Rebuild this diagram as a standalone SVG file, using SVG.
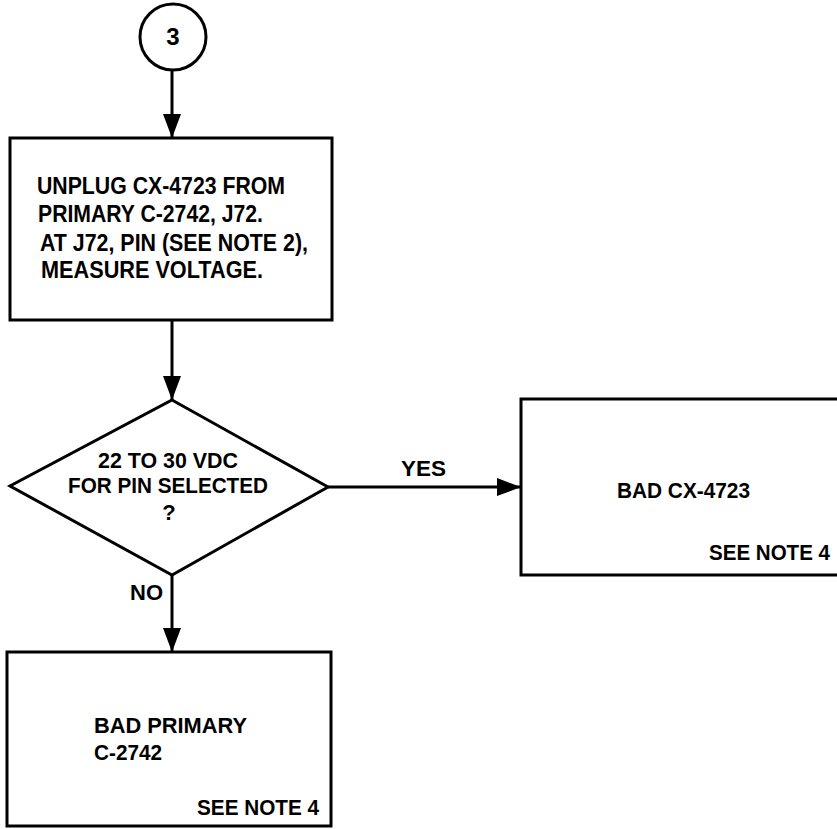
<svg xmlns="http://www.w3.org/2000/svg" width="837" height="829" viewBox="0 0 837 829">
<defs>
<style>
.shape{fill:#fff;stroke:#000;stroke-width:3}
.conn{fill:none;stroke:#000;stroke-width:3}
text{font-family:"Liberation Sans",Arial,sans-serif;font-weight:bold;fill:#000}
.t24{font-size:24px}
.t22{font-size:22px}
</style>
<marker id="arr" markerUnits="userSpaceOnUse" markerWidth="24" markerHeight="18" refX="24" refY="9" orient="auto">
<path d="M0,0 L24,9 L0,18 z" fill="#000"/>
</marker>
</defs>
<rect width="837" height="829" fill="#fff"/>
<g id="connectors">
<line class="conn" x1="172" y1="70" x2="172" y2="138" marker-end="url(#arr)"/>
<line class="conn" x1="172" y1="320" x2="172" y2="400" marker-end="url(#arr)"/>
<line class="conn" x1="328" y1="487" x2="521" y2="487" marker-end="url(#arr)"/>
<line class="conn" x1="172" y1="575" x2="172" y2="652" marker-end="url(#arr)"/>
<text class="t22" x="401" y="476" textLength="45" lengthAdjust="spacingAndGlyphs">YES</text>
<text class="t22" x="130" y="600" textLength="33" lengthAdjust="spacingAndGlyphs">NO</text>
</g>
<g id="connector-3">
<circle class="shape" cx="173" cy="37" r="33"/>
<text class="t24" x="173" y="45" text-anchor="middle">3</text>
</g>
<g id="step-unplug">
<rect class="shape" x="10" y="138" width="322" height="182"/>
<text class="t24" x="37" y="194" textLength="248" lengthAdjust="spacingAndGlyphs">UNPLUG CX-4723 FROM</text>
<text class="t24" x="38" y="222" textLength="225" lengthAdjust="spacingAndGlyphs">PRIMARY C-2742, J72.</text>
<text class="t24" x="40" y="251" textLength="268" lengthAdjust="spacingAndGlyphs">AT J72, PIN (SEE NOTE 2),</text>
<text class="t24" x="41" y="278" textLength="222" lengthAdjust="spacingAndGlyphs">MEASURE VOLTAGE.</text>
</g>
<g id="decision-voltage">
<polygon class="shape" points="172,400 328,487 172,575 10,486"/>
<text class="t22" x="98" y="468" textLength="140" lengthAdjust="spacingAndGlyphs">22 TO 30 VDC</text>
<text class="t22" x="68" y="493" textLength="200" lengthAdjust="spacingAndGlyphs">FOR PIN SELECTED</text>
<text class="t22" x="169" y="520" text-anchor="middle">?</text>
</g>
<g id="result-bad-cx">
<rect class="shape" x="521" y="399" width="330" height="176"/>
<text class="t22" x="617" y="498" textLength="133" lengthAdjust="spacingAndGlyphs">BAD CX-4723</text>
<text class="t22" x="709" y="560" textLength="121" lengthAdjust="spacingAndGlyphs">SEE NOTE 4</text>
</g>
<g id="result-bad-primary">
<rect class="shape" x="7" y="652" width="324" height="174"/>
<text class="t22" x="94" y="733" textLength="153" lengthAdjust="spacingAndGlyphs">BAD PRIMARY</text>
<text class="t22" x="94" y="760" textLength="68" lengthAdjust="spacingAndGlyphs">C-2742</text>
<text class="t22" x="197" y="815" textLength="122" lengthAdjust="spacingAndGlyphs">SEE NOTE 4</text>
</g>
</svg>
